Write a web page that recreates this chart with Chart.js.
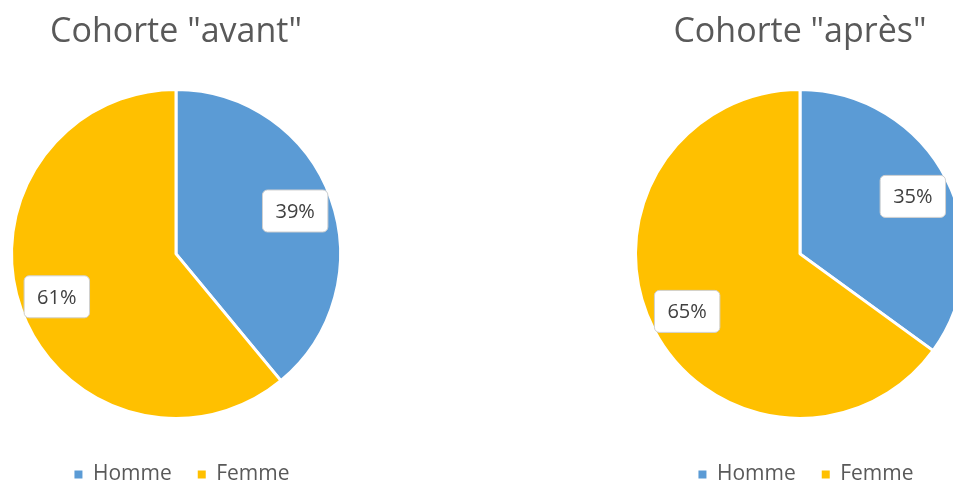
<!DOCTYPE html>
<html lang="fr">
<head>
<meta charset="utf-8">
<title>Cohortes</title>
<script src="https://cdn.jsdelivr.net/npm/chart.js@4/dist/chart.umd.min.js"></script>
<style>
    html, body { margin: 0; padding: 0; background: #fff; overflow: hidden; }
    body { width: 953px; height: 483px; position: relative; }
    /* le conteneur dépasse un peu en bas / à droite, coupé par le body */
    .pie-box { position: absolute; top: 0; width: 352px; height: 495px; }
    #box-avant { left: 0; }
    #box-apres { left: 624px; }
</style>
</head>
<body>
<div class="pie-box" id="box-avant"><canvas id="chartAvant"></canvas></div>
<div class="pie-box" id="box-apres"><canvas id="chartApres"></canvas></div>

<script>
// --- DONNÉES ---
const categories = ['Homme', 'Femme'];
const avantValues = [39, 61];
const apresValues = [35, 65];
const couleurs = ['#5B9BD5', '#FFC000'];

const FONT = "'Open Sans', 'DejaVu Sans', sans-serif";

// étiquettes % dans une boîte blanche arrondie
const etiquettesPlugin = {
    id: 'etiquettes',
    afterDatasetsDraw(chart) {
        const ctx = chart.ctx;
        const data = chart.data.datasets[0].data;
        const total = data.reduce((a, b) => a + b, 0);
        chart.getDatasetMeta(0).data.forEach((arc, i) => {
            const p = arc.getProps(['x', 'y', 'startAngle', 'endAngle', 'outerRadius']);
            const mid = (p.startAngle + p.endAngle) / 2;
            const r = p.outerRadius * 0.77;
            const cx = p.x + Math.cos(mid) * r;
            const cy = p.y + Math.sin(mid) * r;
            const txt = Math.round(data[i] / total * 100) + '%';
            ctx.save();
            ctx.font = `20px ${FONT}`;
            const w = ctx.measureText(txt).width + 26;
            const h = 42;
            ctx.beginPath();
            ctx.roundRect(cx - w / 2, cy - h / 2, w, h, 5);
            ctx.fillStyle = '#fff';
            ctx.fill();
            ctx.strokeStyle = '#d0d0d0';
            ctx.lineWidth = 1;
            ctx.stroke();
            ctx.fillStyle = '#404040';
            ctx.textAlign = 'center';
            ctx.textBaseline = 'middle';
            ctx.fillText(txt, cx, cy + 1);
            ctx.restore();
        });
    }
};

// légende un peu décalée vers la droite
const decalageLegende = {
    id: 'decalageLegende',
    afterLayout(chart) {
        if (chart.legend) {
            chart.legend.left += 6;
            chart.legend.right += 6;
        }
    }
};

function creerCamembert(id, titre, valeurs) {
    const ctx = document.getElementById(id).getContext('2d');
    return new Chart(ctx, {
        type: 'pie',
        data: {
            labels: categories,
            datasets: [{
                data: valeurs,
                backgroundColor: couleurs,
                borderColor: '#fff',
                borderWidth: 3
            }]
        },
        options: {
            responsive: true,
            maintainAspectRatio: false,
            animation: false,
            layout: { padding: { left: 10, right: 10, top: 0, bottom: 0 } },
            plugins: {
                title: {
                    display: true,
                    text: titre,
                    color: '#595959',
                    font: { family: FONT, size: 34, weight: 'normal' },
                    padding: { top: 12, bottom: 17 }
                },
                legend: {
                    position: 'bottom',
                    labels: {
                        color: '#595959',
                        font: { family: FONT, size: 21 },
                        boxWidth: 8,
                        boxHeight: 8,
                        padding: 26,
                        generateLabels(chart) {
                            const items = Chart.overrides.pie.plugins.legend.labels.generateLabels(chart);
                            items.forEach(it => { it.lineWidth = 0; });
                            return items;
                        }
                    }
                },
                tooltip: { enabled: false }
            }
        },
        plugins: [etiquettesPlugin, decalageLegende]
    });
}

creerCamembert('chartAvant', 'Cohorte "avant"', avantValues);
creerCamembert('chartApres', 'Cohorte "après"', apresValues);
</script>
</body>
</html>
